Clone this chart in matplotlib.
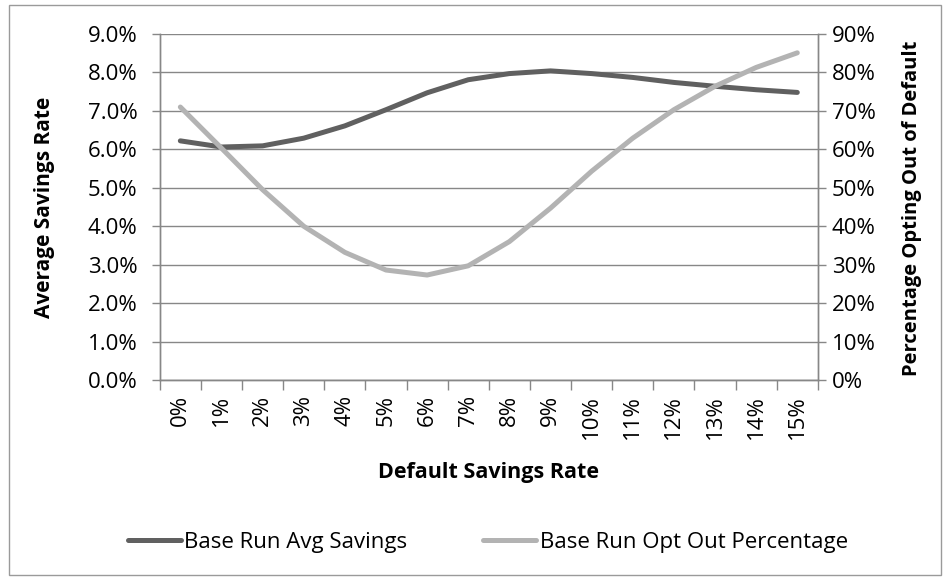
import matplotlib
matplotlib.use("Agg")
import matplotlib.pyplot as plt
from matplotlib.ticker import FuncFormatter, FixedLocator
from matplotlib.patches import Rectangle

plt.rcParams['font.family'] = ['Open Sans', 'DejaVu Sans']

# default savings rate categories
categories = ['0%', '1%', '2%', '3%', '4%', '5%', '6%', '7%',
              '8%', '9%', '10%', '11%', '12%', '13%', '14%', '15%']
# average savings rate (%)
avg_savings = [6.22, 6.06, 6.09, 6.29, 6.61, 7.03, 7.47, 7.81,
               7.97, 8.04, 7.97, 7.87, 7.74, 7.64, 7.55, 7.48]
# percentage opting out of default (%)
opt_out = [71.0, 60.3, 49.5, 40.0, 33.2, 28.6, 27.3, 29.7,
           36.0, 44.7, 54.3, 62.9, 70.3, 76.4, 81.3, 85.1]

dark = '#606060'
light = '#b3b3b3'
grid_c = '#878787'

fig = plt.figure(figsize=(9.51, 5.78), dpi=100)
ax = fig.add_axes([0.168, 0.3426, 0.692, 0.5986])
ax2 = ax.twinx()

x = list(range(len(categories)))
l1, = ax.plot(x, avg_savings, color=dark, lw=3.6, solid_capstyle='round',
              label='Base Run Avg Savings', zorder=3)
l2, = ax2.plot(x, opt_out, color=light, lw=3.6, solid_capstyle='round',
               label='Base Run Opt Out Percentage', zorder=3)

ax.set_xlim(-0.5, len(categories) - 0.5)
ax.set_ylim(0, 9)
ax2.set_ylim(0, 90)
ax.set_yticks([i for i in range(10)])
ax2.set_yticks([i * 10 for i in range(10)])
ax.yaxis.set_major_formatter(FuncFormatter(lambda v, p: '%.1f%%' % v))
ax2.yaxis.set_major_formatter(FuncFormatter(lambda v, p: '%d%%' % v))

# category boundaries as tick marks, labels at centers
ax.xaxis.set_major_locator(FixedLocator([i - 0.5 for i in range(len(categories) + 1)]))
ax.xaxis.set_minor_locator(FixedLocator(x))
ax.set_xticklabels([''] * (len(categories) + 1))
ax.set_xticklabels(categories, minor=True, rotation=90)
ax.tick_params(axis='x', which='major', length=7, width=1, color=grid_c, direction='out')
ax.tick_params(axis='x', which='minor', length=0, labelsize=16, pad=11)
ax.tick_params(axis='y', length=6, width=1, color=grid_c, labelsize=16, pad=10)
ax2.tick_params(axis='y', length=6, width=1, color=grid_c, labelsize=16, pad=4)

ax.grid(axis='y', color=grid_c, lw=1)
ax.set_axisbelow(True)
for a in (ax, ax2):
    a.spines['top'].set_visible(False)
    for s in ('left', 'right', 'bottom'):
        a.spines[s].set_color(grid_c)
        a.spines[s].set_linewidth(1)

fig.text(0.047, 0.641, 'Average Savings Rate', fontsize=15, fontweight='bold',
         rotation=90, ha='center', va='center')
fig.text(0.959, 0.640, 'Percentage Opting Out of Default', fontsize=14.5,
         fontweight='bold', rotation=90, ha='center', va='center')
fig.text(0.514, 0.182, 'Default Savings Rate', fontsize=15.5, fontweight='bold',
         ha='center', va='center')

leg = fig.legend(handles=[l1, l2], loc='center', bbox_to_anchor=(0.513, 0.062), ncol=2,
                 frameon=False, handlelength=2.4, handletextpad=0.15,
                 columnspacing=3.4, fontsize=16)

fig.patches.append(Rectangle((0.009, 0.005), 0.98, 0.986, transform=fig.transFigure,
                             fill=False, edgecolor='#9a9a9a', lw=1))

fig.savefig('out.png', dpi=100)
